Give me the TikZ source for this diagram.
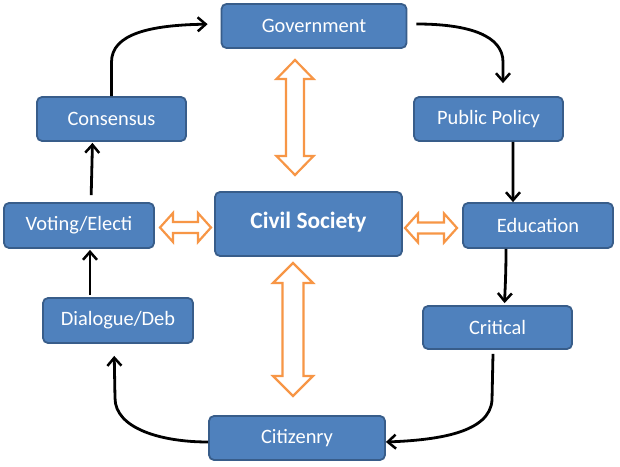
\documentclass[tikz,border=0pt]{standalone}
\usepackage{fontspec}
\setmainfont{Carlito}
\usetikzlibrary{arrows.meta,calc}
\definecolor{boxfill}{HTML}{4F81BD}
\definecolor{boxline}{HTML}{385D8A}
\definecolor{orng}{HTML}{F79646}
\begin{document}
\begin{tikzpicture}[x=1bp,y=-1bp,
  box/.style={draw=boxline,fill=boxfill,line width=1.8bp,rounded corners=5bp,
    text=white,font=\fontsize{20.5}{24}\selectfont,inner sep=0pt},
  flow/.style={draw=black,line width=2.8bp,-{Straight Barb[length=8bp,width=14bp,line width=2.5bp]}},
  dbl/.style={draw=orng,fill=white,line width=2.2bp,line join=miter}]
\useasboundingbox[fill=white] (0,0) rectangle (620,467);
% nodes
\node[box,minimum width=185bp,minimum height=44bp] (gov) at (314,26) {Government};
\node[box,minimum width=149bp,minimum height=44bp] (pp) at (488.5,119) {Public Policy};
\node[box,minimum width=149bp,minimum height=44bp] (cons) at (111.5,119) {Consensus};
\node[box,minimum width=150bp,minimum height=45bp] (vote) at (79,225.5) {Voting/Electi};
\node[box,minimum width=187bp,minimum height=64bp,font=\bfseries\fontsize{23.5}{27}\selectfont] (civ) at (308.5,224) {\raisebox{8bp}{Civil Society}};
\node[box,minimum width=150bp,minimum height=45bp] (edu) at (538,225.5) {Education};
\node[box,minimum width=150bp,minimum height=45bp] (dia) at (118,320.5) {Dialogue/Deb};
\node[box,minimum width=149bp,minimum height=43bp] (crit) at (497.5,327.5) {Critical};
\node[box,minimum width=176bp,minimum height=44bp] (citz) at (297,438) {Citizenry};
% cycle connectors
\draw[flow,shorten >=13bp] (cons.north) -- (111.5,62) .. controls (111.5,34) and (150,25) .. ($(gov.west)+(0,-2)$);
\draw[flow,shorten <=9bp,shorten >=13bp] ($(gov.east)+(0,-2)$) .. controls (470,24) and (503,36) .. (503,62) -- ($(pp.north)+(14.5,0)$);
\draw[flow] ($(pp.south)+(24.5,0)$) -- ($(edu.north)+(-25,0)$);
\draw[flow,shorten >=2bp] ($(edu.south)+(-32,0)$) .. controls (506,275) and (505,290) .. ($(crit.north)+(7,0)$);
\draw[flow] ($(crit.south)+(-4.5,4)$) -- (492,400) .. controls (490,432) and (440,440) .. ($(citz.east)+(0,4)$);
\draw[flow,shorten >=12bp] ($(citz.west)+(0,4)$) .. controls (160,442) and (115,428) .. (115,398) -- ($(dia.south)+(-4,0)$);
\draw[flow,shorten <=2bp,shorten >=1bp] ($(dia.north)+(-28,0)$) -- ($(vote.south)+(11,0)$);
\draw[flow,shorten <=7bp,shorten >=1bp] ($(vote.north)+(12,0)$) -- ($(cons.south)+(-19,0)$);
% orange double arrows
\draw[dbl] (295,60) -- (313.5,79) -- (304,79) -- (304,156) -- (313.5,156) -- (295,175) -- (276.5,156) -- (286,156) -- (286,79) -- (276.5,79) -- cycle;
\draw[dbl] (293,263) -- (313,283) -- (303.5,283) -- (303.5,376) -- (313,376) -- (293,396) -- (273,376) -- (282.5,376) -- (282.5,283) -- (273,283) -- cycle;
\draw[dbl] (160,227.5) -- (173,213) -- (173,222) -- (198,222) -- (198,213) -- (211,227.5) -- (198,242) -- (198,233) -- (173,233) -- (173,242) -- cycle;
\draw[dbl] (405,228) -- (418,213.5) -- (418,222.5) -- (444,222.5) -- (444,213.5) -- (457,228) -- (444,242.5) -- (444,233.5) -- (418,233.5) -- (418,242.5) -- cycle;
\end{tikzpicture}
\end{document}
